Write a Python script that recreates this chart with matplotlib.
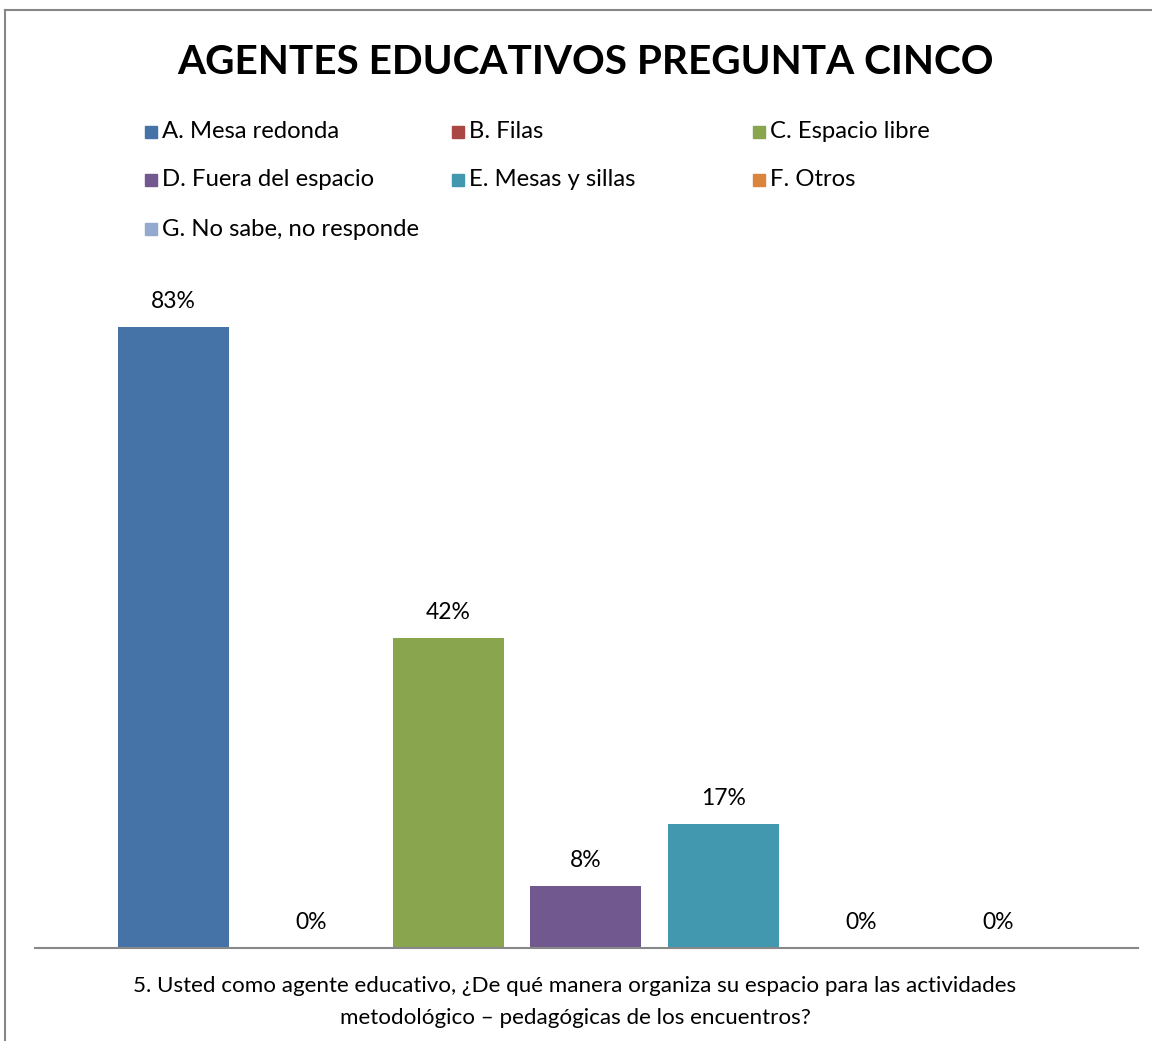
import matplotlib
matplotlib.use("Agg")
import matplotlib.pyplot as plt
from matplotlib.patches import Rectangle

plt.rcParams["font.family"] = ["Lato", "DejaVu Sans"]

categorias = ["A. Mesa redonda", "B. Filas", "C. Espacio libre",
              "D. Fuera del espacio", "E. Mesas y sillas", "F. Otros",
              "G. No sabe, no responde"]
valores = [83.33, 0, 41.67, 8.33, 16.67, 0, 0]
etiquetas = ["83%", "0%", "42%", "8%", "17%", "0%", "0%"]
colores = ["#4573a7", "#aa4643", "#89a54e", "#71588f", "#4298af", "#db843d", "#93a9cf"]

titulo = "AGENTES EDUCATIVOS PREGUNTA CINCO"
eje_x = ("5. Usted como agente educativo, ¿De qué manera organiza su espacio para las actividades\n"
         "metodológico – pedagógicas de los encuentros?")

W, H = 1152, 1041
fig = plt.figure(figsize=(W / 100, H / 100), dpi=100)

# marco del gráfico
fig.add_artist(plt.Line2D([5 / W, 5 / W], [0, 1 - 10 / H], color="#878787", lw=1.5))
fig.add_artist(plt.Line2D([5 / W, 1], [1 - 10 / H, 1 - 10 / H], color="#878787", lw=1.5))

ax = fig.add_axes([35 / W, 1 - 948 / H, (1138 - 35) / W, (948 - 203) / H])
x = list(range(len(valores)))
ax.bar(x, valores, width=0.807, color=colores)
for xi, v, t in zip(x, valores, etiquetas):
    ax.text(xi, v + 2.0, t, ha="center", va="bottom", fontsize=16.5)
ax.set_xlim(-1.007, 7.015)
ax.set_ylim(0, 100)
for s in ["top", "right", "left"]:
    ax.spines[s].set_visible(False)
ax.spines["bottom"].set_color("#888888")
ax.spines["bottom"].set_linewidth(1.5)
ax.set_xticks([])
ax.set_yticks([])

fig.text(585 / W, 1 - 62 / H, titulo, ha="center", va="center",
         fontsize=29.2, fontweight="bold")

# leyenda
col_x = [145, 452, 753]
fila_y = [132, 180, 229]
for i, (cat, col) in enumerate(zip(categorias, colores)):
    cx = col_x[i % 3]
    cy = fila_y[i // 3]
    fig.add_artist(Rectangle((cx / W, 1 - (cy + 6) / H), 12 / W, 12 / H,
                             color=col, transform=fig.transFigure))
    fig.text((cx + 17) / W, 1 - cy / H, cat, ha="left", va="center", fontsize=17.2)

fig.text(575 / W, 1 - 1002 / H, eje_x, ha="center", va="center",
         fontsize=16.1, linespacing=1.7)

fig.savefig("out.png", dpi=100)
